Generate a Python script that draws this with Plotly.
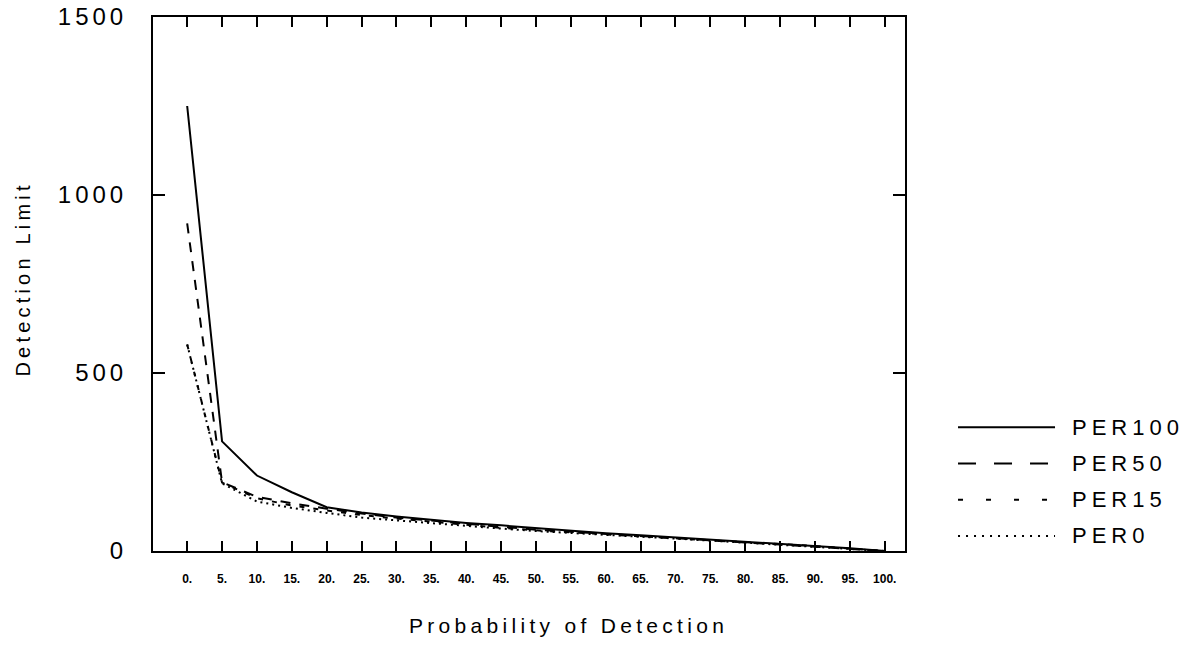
import plotly.graph_objects as go

# Probability of detection (%) and detection limits for each PER series
probability = [0, 5, 10, 15, 20, 25, 30, 35, 40, 45, 50, 55, 60, 65, 70, 75, 80, 85, 90, 95, 100]
per100 = [1250, 308, 212, 165, 123, 108, 97, 87, 79, 72, 64, 57, 50, 44, 38, 32, 27, 21, 15, 8, 0]
per50 = [920, 193, 152, 134, 119, 105, 94, 85, 75, 68, 60, 54, 48, 42, 37, 31, 26, 20, 14, 7, 0]
per15 = [580, 192, 148, 128, 114, 101, 91, 82, 72, 65, 58, 52, 46, 41, 36, 30, 25, 20, 14, 7, 0]
per0 = [580, 190, 139, 121, 107, 94, 86, 78, 69, 63, 56, 50, 45, 40, 35, 29, 24, 19, 13, 7, 0]

series_names = ["PER100", "PER50", "PER15", "PER0"]
series_values = [per100, per50, per15, per0]
dash_styles = ["solid", "10px,9px", "5px,9px", "2px,4px"]
legend_dash_styles = ["solid", "18px,18px", "5px,23px", "2px,6px"]

x_tick_labels = [f"{v}." for v in probability]
y_ticks = [0, 500, 1000, 1500]

FONT = "Liberation Sans, Arial, sans-serif"


def spaced(text, px):
    """Wrap text in a span with extra tracking between glyphs."""
    return f'<span style="letter-spacing:{px}px">{text}</span>'


fig = go.Figure()
for name, vals, dash in zip(series_names, series_values, dash_styles):
    fig.add_trace(go.Scatter(
        x=probability, y=vals, mode="lines", name=name,
        line=dict(color="black", width=2, dash=dash),
        showlegend=False,
    ))

# Legend block drawn to the right of the plot frame
legend_y = [0.2316, 0.1638, 0.0960, 0.0282]
for name, dash, ly in zip(series_names, legend_dash_styles, legend_y):
    fig.add_shape(type="line", xref="paper", yref="paper",
                  x0=1.0705, x1=1.1995, y0=ly, y1=ly,
                  line=dict(color="black", width=2, dash=dash))
    fig.add_annotation(xref="paper", yref="paper", x=1.2195, y=ly,
                       text=spaced(name, 5), showarrow=False,
                       xanchor="left", yanchor="middle",
                       font=dict(family=FONT, size=22, color="black"))

# Axis titles
fig.add_annotation(xref="paper", yref="paper", x=0.553, y=-0.139,
                   text=spaced("Probability of Detection", 4.3), showarrow=False,
                   xanchor="center", yanchor="middle",
                   font=dict(family=FONT, size=21, color="black"))
fig.add_annotation(xref="paper", yref="paper", x=-0.173, y=0.51,
                   text=spaced("Detection Limit", 4.2), showarrow=False, textangle=-90,
                   xanchor="center", yanchor="middle",
                   font=dict(family=FONT, size=20, color="black"))

fig.update_layout(
    width=1191, height=648,
    margin=dict(l=153, r=286, t=17, b=97),
    paper_bgcolor="white", plot_bgcolor="white",
    font=dict(family=FONT, color="black"),
    xaxis=dict(
        range=[-4.9, 102.9], tickmode="array", tickvals=probability, ticktext=x_tick_labels,
        ticks="inside", ticklen=10, tickwidth=2, tickcolor="black",
        showline=True, linecolor="black", linewidth=2, mirror="allticks",
        showgrid=False, zeroline=False, automargin=False,
        tickfont=dict(family="Liberation Sans, Arial", size=12, color="black", weight="bold"),
        ticklabelstandoff=16,
    ),
    yaxis=dict(
        range=[0, 1500], tickmode="array", tickvals=y_ticks,
        ticktext=[spaced(str(v), 4) for v in y_ticks],
        ticks="inside", ticklen=12, tickwidth=2, tickcolor="black",
        showline=True, linecolor="black", linewidth=2, mirror="allticks",
        showgrid=False, zeroline=False, automargin=False,
        tickfont=dict(family=FONT, size=24, color="black"),
        ticklabelstandoff=19,
    ),
)

fig.write_html("out.html")
